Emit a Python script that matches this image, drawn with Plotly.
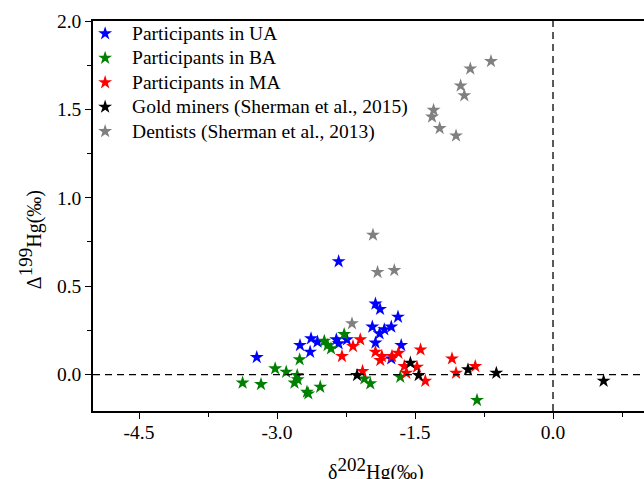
import plotly.graph_objects as go

ua_x = [-2.33, -3.22, -1.93, -1.88, -1.685, -1.964, -1.758, -1.834, -1.885, -1.93, -1.65, -1.758,
        -2.75, -2.63, -2.56, -2.64, -2.355, -2.33, -2.24]
ua_y = [0.64, 0.098, 0.40, 0.37, 0.326, 0.27, 0.27, 0.255, 0.232, 0.18, 0.166, 0.09,
        0.166, 0.204, 0.185, 0.128, 0.198, 0.175, 0.198]

ba_x = [-3.374, -3.174, -3.02, -2.90, -2.78, -2.775, -2.81, -2.754, -2.674, -2.66, -2.53,
        -2.486, -2.45, -2.413, -2.27, -2.05, -1.986, -1.66, -0.826]
ba_y = [-0.047, -0.055, 0.034, 0.015, -0.004, -0.028, -0.047, 0.085, -0.098, -0.108, -0.07,
        0.19, 0.166, 0.147, 0.228, -0.023, -0.051, -0.014, -0.145]

ma_x = [-2.095, -2.174, -2.294, -2.07, -1.93, -1.86, -1.877, -1.75, -1.68, -1.44, -1.616,
        -1.595, -1.478, -1.388, -1.098, -1.054, -0.845]
ma_y = [0.198, 0.16, 0.104, 0.019, 0.128, 0.104, 0.081, 0.104, 0.122, 0.141, 0.047,
        0.009, 0.043, -0.036, 0.09, 0.009, 0.047]

gold_x = [-2.13, -1.55, -1.46, -0.924, -0.616, 0.55]
gold_y = [-0.004, 0.066, -0.004, 0.028, 0.009, -0.036]

dent_x = [-0.674, -0.899, -1.004, -0.964, -1.298, -1.315, -1.232, -1.054, -1.957, -1.907, -1.725, -2.185]
dent_y = [1.772, 1.73, 1.634, 1.579, 1.496, 1.458, 1.393, 1.351, 0.79, 0.579, 0.59, 0.289]

series = [
    ("Participants in UA", ua_x, ua_y, "#0000FF"),
    ("Participants in BA", ba_x, ba_y, "#008000"),
    ("Participants in MA", ma_x, ma_y, "#FF0000"),
    ("Gold miners (Sherman et al., 2015)", gold_x, gold_y, "#000000"),
    ("Dentists (Sherman et al., 2013)", dent_x, dent_y, "#808080"),
]

x_tick_vals = [-4.5, -3.0, -1.5, 0.0]
x_tick_text = ["-4.5", "-3.0", "-1.5", "0.0"]
y_tick_vals = [0.0, 0.5, 1.0, 1.5, 2.0]
y_tick_text = ["0.0", "0.5", "1.0", "1.5", "2.0"]

FONT = "Liberation Serif"

fig = go.Figure()
for name, xs, ys, col in series:
    fig.add_trace(go.Scatter(
        x=xs, y=ys, mode="markers",
        name='<span style="font-size:19.5px">' + name + '</span>',
        marker=dict(symbol="star", size=10.5, color=col, line=dict(width=0)),
    ))

fig.add_hline(y=0, line=dict(color="black", width=1.3, dash="7px,5px"))
fig.add_vline(x=0, line=dict(color="black", width=1.3, dash="7px,5px"))

fig.update_layout(
    width=644, height=479,
    margin=dict(l=93, r=0, t=21, b=68),
    paper_bgcolor="white", plot_bgcolor="white",
    font=dict(family=FONT, size=19.5, color="black"),
    showlegend=True,
    legend=dict(x=-0.027, y=1.012, xanchor="left", yanchor="top",
                bgcolor="rgba(0,0,0,0)", font=dict(size=16.5, family=FONT),
                itemwidth=44, tracegroupgap=0),
    xaxis=dict(range=[-5.0, 0.989], showgrid=False, zeroline=False,
               showline=True, linecolor="black", linewidth=1.5, mirror=True,
               ticks="outside", ticklen=6, tickwidth=1.3, tickcolor="black",
               tickmode="array", tickvals=x_tick_vals, ticktext=x_tick_text,
               ticklabelstandoff=-3,
               minor=dict(dtick=0.75, tick0=0, ticks="outside", ticklen=4,
                          tickwidth=1.3, tickcolor="black", showgrid=False)),
    yaxis=dict(range=[-0.206, 2.0], showgrid=False, zeroline=False,
               showline=True, linecolor="black", linewidth=1.5,
               ticks="outside", ticklen=6, tickwidth=1.3, tickcolor="black",
               tickmode="array", tickvals=y_tick_vals, ticktext=y_tick_text,
               minor=dict(dtick=0.25, tick0=0, ticks="outside", ticklen=4,
                          tickwidth=1.3, tickcolor="black", showgrid=False)),
    annotations=[
        dict(text="δ<sup><span style='font-size:19px'>202</span></sup>Hg(‰)",
             xref="paper", yref="paper",
             x=0.513, y=-0.15, xanchor="center", yanchor="middle",
             showarrow=False, font=dict(size=20, family=FONT)),
        dict(text="Δ<sup><span style='font-size:19px'>199</span></sup>Hg(‰)",
             xref="paper", yref="paper",
             x=-0.113, y=0.44, xanchor="center", yanchor="middle", textangle=-90,
             showarrow=False, font=dict(size=20, family=FONT)),
    ],
)

fig.write_html("out.html", config={"displayModeBar": False},
               post_script="document.body.style.margin='0';document.body.style.overflow='hidden';")
